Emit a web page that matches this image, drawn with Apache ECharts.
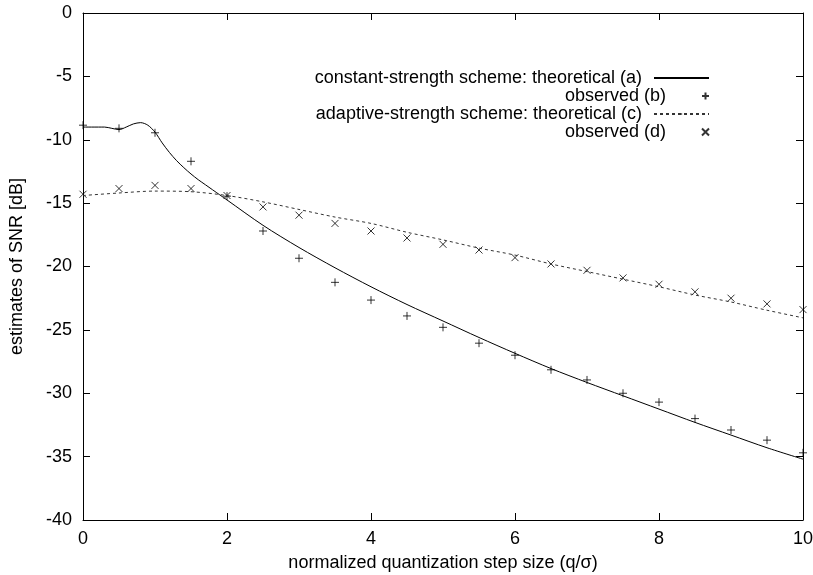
<!DOCTYPE html>
<html>
<head>
<meta charset="utf-8">
<script src="https://cdn.jsdelivr.net/npm/echarts@6/dist/echarts.min.js"></script>
<style>
  html, body { margin: 0; padding: 0; background: #fff; }
  #chart { width: 813px; height: 575px; }
</style>
</head>
<body>
<div id="chart"></div>
<script>
// theoretical curve (a), constant-strength
const theoryAX = [0, 0.3, 0.4, 0.5, 0.6, 0.7, 0.8, 0.9, 1.0, 1.1, 1.2, 1.3, 1.4, 1.5, 1.6, 1.7, 1.8, 1.9, 2.0, 2.5, 3.0, 3.5, 4.0, 4.5, 5.0, 5.5, 6.0, 6.5, 7.0, 7.5, 8.0, 8.5, 9.0, 9.5, 10];
const theoryAY = [-9.0, -9.0, -9.1, -9.2, -9.0, -8.75, -8.65, -8.85, -9.4, -10.25, -11.0, -11.65, -12.2, -12.7, -13.15, -13.55, -13.95, -14.35, -14.75, -16.75, -18.5, -20.1, -21.6, -23.0, -24.3, -25.6, -26.85, -28.05, -29.15, -30.2, -31.25, -32.3, -33.3, -34.3, -35.2];
// theoretical curve (c), adaptive-strength
const theoryCX = [0, 0.5, 1.0, 1.5, 2.0, 2.5, 3.0, 3.5, 4.0, 4.5, 5.0, 5.5, 6.0, 6.5, 7.0, 7.5, 8.0, 8.5, 9.0, 9.5, 10];
const theoryCY = [-14.4, -14.2, -14.05, -14.1, -14.4, -14.9, -15.5, -16.1, -16.6, -17.3, -17.9, -18.55, -19.1, -19.8, -20.4, -21.0, -21.6, -22.25, -22.8, -23.45, -24.05];
// observed points
const obsX = [0, 0.5, 1, 1.5, 2, 2.5, 3, 3.5, 4, 4.5, 5, 5.5, 6, 6.5, 7, 7.5, 8, 8.5, 9, 9.5, 10];
const obsB = [-8.85, -9.1, -9.45, -11.7, -14.45, -17.2, -19.35, -21.25, -22.65, -23.9, -24.8, -26.05, -27.0, -28.15, -28.95, -30.0, -30.7, -32.0, -32.9, -33.7, -34.7];
const obsD = [-14.3, -13.85, -13.6, -13.85, -14.4, -15.3, -15.95, -16.6, -17.2, -17.75, -18.25, -18.7, -19.3, -19.8, -20.3, -20.9, -21.4, -22.0, -22.5, -22.95, -23.4];
const xTicks = [0, 2, 4, 6, 8, 10];
const yTicks = [-40, -35, -30, -25, -20, -15, -10, -5, 0];

const zip = (xs, ys) => xs.map((x, i) => [x, ys[i]]);
const PLUS = "path://M0,5L10,5M5,0L5,10";
const CROSS = "path://M0,0L10,10M0,10L10,0";
const FONT = "Liberation Sans";
const names = [
  "constant-strength scheme: theoretical (a)",
  "observed (b)",
  "adaptive-strength scheme: theoretical (c)",
  "observed (d)"
];

let myChart = echarts.init(document.getElementById("chart"));

function markStyle() {
  return { color: "transparent", borderColor: "#000", borderWidth: 1 };
}

// frame axis: line + inward ticks, labels optional
function axis(type, pos, ticks, labels) {
  return {
    type: "value",
    position: pos,
    min: ticks[0],
    max: ticks[ticks.length - 1],
    interval: ticks[1] - ticks[0],
    axisLine: { show: true, onZero: false, lineStyle: { color: "#000", width: 1 } },
    axisTick: { show: true, inside: true, length: 7, lineStyle: { color: "#000", width: 1 } },
    splitLine: { show: false },
    axisLabel: labels
      ? { show: true, fontFamily: FONT, fontSize: 18, color: "#000", margin: type === "x" ? 10 : 11 }
      : { show: false }
  };
}

let xBottom = axis("x", "bottom", xTicks, true);
xBottom.name = "normalized quantization step size (q/\u03c3)";
xBottom.nameLocation = "middle";
xBottom.nameGap = 34;
xBottom.nameTextStyle = { fontFamily: FONT, fontSize: 18, color: "#000" };

let yLeft = axis("y", "left", yTicks, true);
yLeft.name = "estimates of SNR [dB]";
yLeft.nameLocation = "middle";
yLeft.nameGap = 57;
yLeft.nameRotate = 90;
yLeft.nameTextStyle = { fontFamily: FONT, fontSize: 18, color: "#000" };

myChart.setOption({
  animation: false,
  textStyle: { fontFamily: FONT },
  grid: { left: 83, right: 10, top: 13, bottom: 55, outerBoundsMode: "none" },
  legend: names.map((n, i) => ({
    data: [n],
    orient: "vertical",
    right: 103,
    top: 69 + i * 18,
    padding: 0,
    align: "right",
    itemWidth: 55,
    itemHeight: i % 2 === 0 ? 2 : 7,
    selectedMode: false,
    textStyle: { fontFamily: FONT, fontSize: 18, color: "#000", padding: [0, 7, 0, 0] }
  })),
  xAxis: [xBottom, axis("x", "top", xTicks, false)],
  yAxis: [yLeft, axis("y", "right", yTicks, false)],
  series: [
    {
      name: names[0], type: "line", symbol: "none", smooth: 0.3,
      data: zip(theoryAX, theoryAY),
      lineStyle: { color: "#000", width: 1 },
      itemStyle: { color: "#000" }
    },
    {
      name: names[1], type: "scatter", symbol: PLUS, symbolSize: 8,
      data: zip(obsX, obsB),
      itemStyle: markStyle()
    },
    {
      name: names[2], type: "line", symbol: "none", smooth: 0.3,
      data: zip(theoryCX, theoryCY),
      lineStyle: { color: "#333", width: 1, type: [3, 3] },
      itemStyle: { color: "#333" }
    },
    {
      name: names[3], type: "scatter", symbol: CROSS, symbolSize: 7,
      data: zip(obsX, obsD),
      itemStyle: markStyle()
    }
  ]
});
</script>
</body>
</html>
